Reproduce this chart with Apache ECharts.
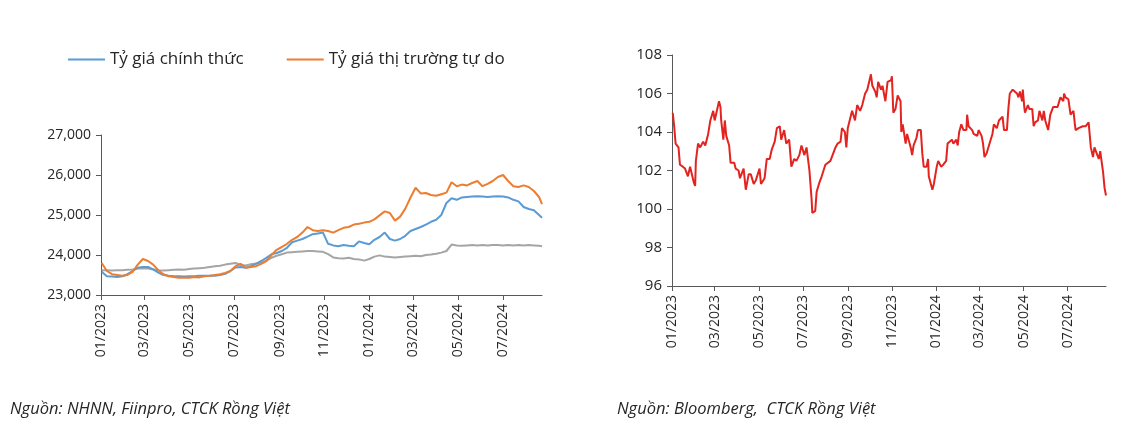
<!DOCTYPE html>
<html>
<head>
<meta charset="utf-8">
<script src="https://cdn.jsdelivr.net/npm/echarts@6/dist/echarts.min.js"></script>
<style>
html,body{margin:0;padding:0;background:#fff;}
#chart{width:1146px;height:435px;}
</style>
</head>
<body>
<div id="chart"></div>
<script>
// ---------- DATA ----------
const tickLabels = ['01/2023','03/2023','05/2023','07/2023','09/2023','11/2023','01/2024','03/2024','05/2024','07/2024'];
const axisStart = '2023-01-01';
const axisEnd = '2024-08-23';
const legendNames = ['Tỷ giá chính thức', 'Tỷ giá thị trường tự do'];
const centralName = 'Tỷ giá trung tâm';
const dxyName = 'DXY';
const sourceLeft = 'Nguồn: NHNN, Fiinpro, CTCK Rồng Việt';
const sourceRight = 'Nguồn: Bloomberg,  CTCK Rồng Việt';

const fxDates = [
 '2023-01-02','2023-01-09','2023-01-16','2023-01-23','2023-01-30','2023-02-06','2023-02-13','2023-02-20','2023-02-27','2023-03-06',
 '2023-03-13','2023-03-20','2023-03-27','2023-04-03','2023-04-10','2023-04-17','2023-04-24','2023-05-01','2023-05-08','2023-05-15',
 '2023-05-22','2023-05-29','2023-06-05','2023-06-12','2023-06-19','2023-06-26','2023-07-03','2023-07-10','2023-07-17','2023-07-24',
 '2023-07-31','2023-08-07','2023-08-14','2023-08-21','2023-08-28','2023-09-04','2023-09-11','2023-09-18','2023-09-25','2023-10-02',
 '2023-10-09','2023-10-16','2023-10-23','2023-10-30','2023-11-06','2023-11-13','2023-11-20','2023-11-27','2023-12-04','2023-12-11',
 '2023-12-18','2023-12-25','2024-01-01','2024-01-08','2024-01-15','2024-01-22','2024-01-29','2024-02-05','2024-02-12','2024-02-19',
 '2024-02-26','2024-03-04','2024-03-11','2024-03-18','2024-03-25','2024-04-01','2024-04-08','2024-04-15','2024-04-22','2024-04-29',
 '2024-05-06','2024-05-13','2024-05-20','2024-05-27','2024-06-03','2024-06-10','2024-06-17','2024-06-24','2024-07-01','2024-07-08',
 '2024-07-15','2024-07-22','2024-07-29','2024-08-05','2024-08-12','2024-08-19','2024-08-23'
];
const fxOfficial = [
 23580,23470,23460,23450,23470,23520,23600,23680,23700,23700,
 23640,23560,23500,23480,23470,23470,23460,23470,23470,23480,
 23480,23480,23480,23500,23530,23600,23690,23700,23680,23720,
 23780,23850,23930,24020,24050,24100,24180,24320,24360,24400,
 24460,24520,24540,24560,24280,24240,24220,24250,24230,24220,
 24340,24300,24270,24380,24450,24560,24400,24360,24400,24480,
 24600,24650,24700,24760,24830,24880,25000,25300,25420,25380,
 25440,25450,25460,25470,25460,25450,25460,25470,25460,25440,
 25380,25340,25200,25150,25120,25000,24930
];
const fxFree = [
 23800,23600,23520,23500,23480,23500,23580,23760,23900,23850,
 23760,23620,23520,23470,23450,23430,23440,23430,23450,23440,
 23470,23480,23500,23520,23550,23600,23720,23780,23680,23700,
 23720,23780,23850,24000,24130,24200,24280,24380,24450,24560,
 24700,24620,24600,24620,24600,24560,24620,24680,24700,24760,
 24780,24810,24830,24890,24990,25090,25050,24860,24960,25160,
 25430,25680,25540,25550,25500,25480,25520,25560,25820,25720,
 25760,25740,25800,25850,25720,25780,25850,25950,26000,25850,
 25720,25700,25740,25700,25600,25450,25270
];
const fxCentral = [
 23620,23620,23610,23620,23620,23630,23640,23660,23670,23660,
 23640,23620,23610,23620,23630,23640,23630,23650,23660,23670,
 23680,23700,23720,23730,23760,23780,23800,23750,23740,23770,
 23790,23810,23860,23930,23980,24020,24060,24070,24080,24090,
 24100,24100,24090,24080,24020,23940,23920,23910,23930,23900,
 23890,23860,23900,23960,23990,23960,23950,23940,23950,23960,
 23970,23980,23970,24000,24010,24030,24060,24100,24260,24240,
 24230,24240,24250,24240,24250,24240,24250,24250,24240,24250,
 24240,24250,24240,24250,24240,24230,24220
];

const dxyDates = [
 '2023-01-02','2023-01-04','2023-01-06','2023-01-10','2023-01-12','2023-01-16','2023-01-19','2023-01-23','2023-01-26','2023-01-31',
 '2023-02-02','2023-02-03','2023-02-06','2023-02-09','2023-02-13','2023-02-16','2023-02-20','2023-02-23','2023-02-27',
 '2023-03-01','2023-03-03','2023-03-07','2023-03-09','2023-03-10','2023-03-13','2023-03-15','2023-03-17','2023-03-21','2023-03-23','2023-03-28','2023-03-30',
 '2023-04-03','2023-04-05','2023-04-10','2023-04-13','2023-04-17','2023-04-20','2023-04-24','2023-04-27',
 '2023-05-02','2023-05-04','2023-05-09','2023-05-12','2023-05-16','2023-05-19','2023-05-23','2023-05-26','2023-05-30',
 '2023-06-01','2023-06-05','2023-06-08','2023-06-12','2023-06-15','2023-06-19','2023-06-22','2023-06-26','2023-06-29',
 '2023-07-03','2023-07-06','2023-07-10','2023-07-13','2023-07-14','2023-07-18','2023-07-20','2023-07-24','2023-07-27',
 '2023-08-01','2023-08-03','2023-08-08','2023-08-11','2023-08-15','2023-08-18','2023-08-22','2023-08-24','2023-08-28','2023-08-30',
 '2023-09-01','2023-09-05','2023-09-07','2023-09-11','2023-09-14','2023-09-18','2023-09-21','2023-09-25','2023-09-28',
 '2023-10-03','2023-10-05','2023-10-09','2023-10-11','2023-10-13','2023-10-17','2023-10-19','2023-10-23','2023-10-26','2023-10-31',
 '2023-11-01','2023-11-03','2023-11-06','2023-11-09','2023-11-13','2023-11-14','2023-11-16','2023-11-20','2023-11-22','2023-11-27','2023-11-29',
 '2023-12-01','2023-12-05','2023-12-07','2023-12-11','2023-12-13','2023-12-15','2023-12-19','2023-12-21','2023-12-22','2023-12-27','2023-12-29',
 '2024-01-02','2024-01-04','2024-01-08','2024-01-11','2024-01-15','2024-01-17','2024-01-19','2024-01-23','2024-01-25','2024-01-29','2024-01-31',
 '2024-02-02','2024-02-05','2024-02-08','2024-02-12','2024-02-13','2024-02-15','2024-02-20','2024-02-22','2024-02-27','2024-02-29',
 '2024-03-04','2024-03-06','2024-03-08','2024-03-11','2024-03-13','2024-03-15','2024-03-19','2024-03-21','2024-03-25','2024-03-28',
 '2024-04-02','2024-04-04','2024-04-08','2024-04-10','2024-04-12','2024-04-16','2024-04-18','2024-04-22','2024-04-24','2024-04-26','2024-04-29','2024-04-30',
 '2024-05-02','2024-05-03','2024-05-07','2024-05-09','2024-05-13','2024-05-15','2024-05-17','2024-05-21','2024-05-23','2024-05-27','2024-05-29','2024-05-31',
 '2024-06-04','2024-06-06','2024-06-07','2024-06-11','2024-06-13','2024-06-17','2024-06-19','2024-06-21','2024-06-25','2024-06-26','2024-06-28',
 '2024-07-02','2024-07-05','2024-07-09','2024-07-11','2024-07-12','2024-07-16','2024-07-18','2024-07-22','2024-07-24','2024-07-26','2024-07-30',
 '2024-08-01','2024-08-02','2024-08-05','2024-08-07','2024-08-09','2024-08-13','2024-08-15','2024-08-19','2024-08-21','2024-08-23'
];
const dxyValues = [
 105.0,104.3,103.4,103.2,102.3,102.2,102.1,101.7,102.2,101.4,
 101.2,102.5,103.4,103.2,103.5,103.3,103.9,104.6,105.1,
 104.6,104.5,105.6,105.3,104.6,103.6,104.6,103.8,103.3,102.4,102.4,102.1,
 102.0,101.6,102.1,101.0,101.8,101.8,101.3,101.5,
 102.1,101.3,101.6,102.6,102.6,103.1,103.5,104.2,104.3,
 103.6,104.1,103.4,103.6,102.2,102.6,102.5,102.8,103.3,
 102.8,103.2,102.0,100.5,99.8,99.9,100.9,101.4,101.7,
 102.3,102.2,102.5,102.8,103.2,103.4,103.5,104.2,104.0,103.2,
 104.2,104.8,105.1,104.6,105.4,105.1,105.4,106.0,106.2,
 107.0,106.4,106.1,105.8,106.6,106.2,106.4,105.6,106.6,106.7,
 106.9,105.0,105.2,105.9,105.6,104.0,104.4,103.4,103.9,103.2,102.8,
 103.3,103.7,104.1,104.1,102.9,102.2,102.2,102.6,101.7,101.0,101.3,
 102.2,102.5,102.2,102.3,102.5,103.4,103.3,103.6,103.4,103.6,103.3,
 104.0,104.4,104.1,104.1,104.9,104.3,104.1,103.9,103.8,104.1,
 103.8,103.4,102.7,102.9,102.8,103.4,103.9,104.4,104.2,104.6,
 104.8,104.1,104.1,105.2,106.0,106.2,106.1,106.0,105.8,106.1,105.6,106.2,
 105.3,105.0,105.4,105.2,105.2,104.3,104.5,104.6,105.1,104.6,105.1,104.6,
 104.1,104.1,104.9,105.3,105.2,105.3,105.2,105.8,105.6,106.0,105.8,
 105.7,104.9,105.1,104.4,104.1,104.2,104.2,104.3,104.4,104.3,104.5,
 104.4,103.2,102.7,103.2,103.1,102.6,103.0,101.9,101.1,100.7
];

// ---------- HELPERS ----------
const DAY = 86400000;
const t0 = Date.parse(axisStart + 'T00:00:00Z');
function dayOf(s) { return (Date.parse(s + 'T00:00:00Z') - t0) / DAY; }
function tickDay(lbl) { const [m, y] = lbl.split('/'); return dayOf(y + '-' + m + '-01'); }
const tickDays = tickLabels.map(tickDay);
const maxDay = dayOf(axisEnd);
function labelFor(v) {
  const i = tickDays.findIndex(d => Math.abs(d - v) < 0.5);
  return i >= 0 ? tickLabels[i] : '';
}
function pairs(dates, vals) { return dates.map((d, i) => [dayOf(d), vals[i]]); }

const FONT = 'Open Sans';
const TXT = '#262626';
const AX = '#595959';

function xAxisCfg(gridIndex) {
  return {
    type: 'value', gridIndex, min: 0, max: maxDay,
    axisLine: { show: true, lineStyle: { color: AX, width: 1 } },
    axisTick: { show: true, length: 5, customValues: tickDays, lineStyle: { color: AX } },
    axisLabel: {
      customValues: tickDays, rotate: 90, margin: 9,
      fontFamily: FONT, fontSize: 14, color: TXT,
      formatter: labelFor
    },
    splitLine: { show: false }
  };
}

const chart = echarts.init(document.getElementById('chart'), null, { renderer: 'canvas' });
chart.setOption({
  animation: false,
  backgroundColor: '#fff',
  legend: {
    data: legendNames,
    left: 68, top: 51, padding: 0,
    icon: 'rect', itemWidth: 37, itemHeight: 2, itemGap: 43,
    textStyle: { fontFamily: FONT, fontSize: 17, color: TXT }
  },
  grid: [
    { left: 101, top: 135, width: 441, height: 160 },
    { left: 672, top: 55, width: 434, height: 231 }
  ],
  xAxis: [xAxisCfg(0), xAxisCfg(1)],
  yAxis: [
    {
      type: 'value', gridIndex: 0, min: 23000, max: 27000, interval: 1000,
      axisLine: { show: true, lineStyle: { color: AX, width: 1 } },
      axisTick: { show: true, length: 5, lineStyle: { color: AX } },
      axisLabel: {
        fontFamily: FONT, fontSize: 14, color: TXT, margin: 10,
        formatter: v => v.toLocaleString('en-US')
      },
      splitLine: { show: false }
    },
    {
      type: 'value', gridIndex: 1, min: 96, max: 108, interval: 2,
      axisLine: { show: true, lineStyle: { color: AX, width: 1 } },
      axisTick: { show: true, length: 5, lineStyle: { color: AX } },
      axisLabel: { fontFamily: FONT, fontSize: 15, color: TXT, margin: 10 },
      splitLine: { show: false }
    }
  ],
  series: [
    {
      name: centralName, type: 'line', xAxisIndex: 0, yAxisIndex: 0,
      data: pairs(fxDates, fxCentral), showSymbol: false,
      lineStyle: { color: '#A5A5A5', width: 2 }, itemStyle: { color: '#A5A5A5' }
    },
    {
      name: legendNames[0], type: 'line', xAxisIndex: 0, yAxisIndex: 0,
      data: pairs(fxDates, fxOfficial), showSymbol: false,
      lineStyle: { color: '#5B9BD5', width: 2 }, itemStyle: { color: '#5B9BD5' }
    },
    {
      name: legendNames[1], type: 'line', xAxisIndex: 0, yAxisIndex: 0,
      data: pairs(fxDates, fxFree), showSymbol: false,
      lineStyle: { color: '#ED7D31', width: 2 }, itemStyle: { color: '#ED7D31' }
    },
    {
      name: dxyName, type: 'line', xAxisIndex: 1, yAxisIndex: 1,
      data: pairs(dxyDates, dxyValues), showSymbol: false,
      lineStyle: { color: '#E3231F', width: 2 }, itemStyle: { color: '#E3231F' }
    }
  ],
  graphic: [
    { type: 'text', left: 10, top: 401,
      style: { text: sourceLeft, font: 'italic 16.5px "Liberation Sans Narrow", "Open Sans"', fill: TXT } },
    { type: 'text', left: 617, top: 401,
      style: { text: sourceRight, font: 'italic 16.5px "Liberation Sans Narrow", "Open Sans"', fill: TXT } }
  ]
});
</script>
</body>
</html>
